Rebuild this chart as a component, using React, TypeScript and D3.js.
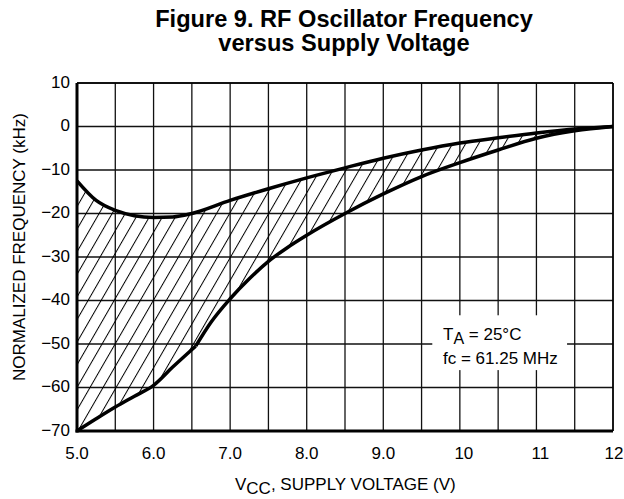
import React from "react";
import * as d3 from "d3";

const xTicks = [5, 6, 7, 8, 9, 10, 11, 12];
const xTickLabels = ["5.0", "6.0", "7.0", "8.0", "9.0", "10", "11", "12"];
const yTicks = [10, 0, -10, -20, -30, -40, -50, -60, -70];
const yTickLabels = ["10", "0", "\u221210", "\u221220", "\u221230", "\u221240", "\u221250", "\u221260", "\u221270"];

const upperV = [5.0, 5.25, 5.5, 5.75, 6.0, 6.25, 6.5, 7.0, 7.5, 8.0, 8.5, 9.0, 9.5, 10, 10.5, 11, 11.5, 12];
const upperF = [-12.5, -17, -19.3, -20.5, -20.9, -20.8, -20, -17, -14.3, -11.8, -9.5, -7.3, -5.4, -3.8, -2.6, -1.5, -0.6, 0];

const lowerV1 = [5.0, 5.25, 5.5, 5.75, 6.0, 6.25, 6.55];
const lowerF1 = [-70, -67.2, -64.5, -62, -59.5, -55.3, -50.5];
const lowerV2 = [6.55, 6.75, 7.0, 7.25, 7.5, 7.75, 8.0, 8.5, 9.0, 9.5, 10, 10.5, 11, 11.5, 12];
const lowerF2 = [-50.5, -45, -39.6, -35, -31, -27.8, -25, -20, -15.5, -11.5, -8.3, -5.4, -2.7, -1, 0];

const W = 624;
const H = 499;
const left = 77;
const right = 613;
const top = 83;
const bottom = 431;

export default function App() {
  const x = d3.scaleLinear().domain([5, 12]).range([left, right]);
  const y = d3.scaleLinear().domain([-70, 10]).range([bottom, top]);

  const line = d3
    .line<[number, number]>()
    .x((d) => x(d[0]))
    .y((d) => y(d[1]))
    .curve(d3.curveMonotoneX);

  const up: [number, number][] = upperV.map((v, i) => [v, upperF[i]]);
  const lo1: [number, number][] = lowerV1.map((v, i) => [v, lowerF1[i]]);
  const lo2: [number, number][] = lowerV2.map((v, i) => [v, lowerF2[i]]);

  const upPath = line(up) || "";
  const lo1Path = line(lo1) || "";
  const lo2Path = line(lo2) || "";
  const lo2Rev = (line([...lo2].reverse()) || "").replace(/^M/, "L");
  const lo1Rev = (line([...lo1].reverse()) || "").replace(/^M/, "L");
  const hatchPath = upPath + lo2Rev + lo1Rev + "Z";

  const vGrid = d3.range(5, 12.01, 0.5);
  const font = "'Liberation Sans', Arial, Helvetica, sans-serif";

  return (
    <svg
      width={W}
      height={H}
      style={{ position: "absolute", left: 0, top: 0, background: "#fff" }}
      fontFamily={font}
    >
      <defs>
        <pattern
          id="hatch"
          patternUnits="userSpaceOnUse"
          width={11.3}
          height={20}
          patternTransform="rotate(30)"
        >
          <line x1={0.5} y1={0} x2={0.5} y2={20} stroke="#000" strokeWidth={1} />
        </pattern>
      </defs>
      <rect x={0} y={0} width={W} height={H} fill="#fff" />

      <text x={344} y={27} textAnchor="middle" fontWeight="bold" fontSize={23.6}>
        Figure 9. RF Oscillator Frequency
      </text>
      <text x={344} y={51} textAnchor="middle" fontWeight="bold" fontSize={23.6}>
        versus Supply Voltage
      </text>

      {/* grid */}
      {vGrid.map((v) => (
        <line key={"v" + v} x1={x(v)} x2={x(v)} y1={top} y2={bottom} stroke="#111" strokeWidth={1.3} />
      ))}
      {yTicks.map((t) => (
        <line key={"h" + t} x1={left} x2={right} y1={y(t)} y2={y(t)} stroke="#111" strokeWidth={1.3} />
      ))}

      {/* hatch */}
      <path d={hatchPath} fill="url(#hatch)" stroke="none" />

      {/* annotation box */}
      <rect x={x(9.64)} y={y(-43.4)} width={x(11.4) - x(9.64)} height={y(-56) - y(-43.4)} fill="#fff" />
      <text x={443} y={340} fontSize={17}>
        T<tspan dy={4} fontSize={16}>A</tspan>
        <tspan dy={-4}> = 25°C</tspan>
      </text>
      <text x={443} y={364} fontSize={17}>
        fc = 61.25 MHz
      </text>

      {/* curves */}
      <path d={upPath} fill="none" stroke="#000" strokeWidth={3.5} />
      <path d={lo1Path} fill="none" stroke="#000" strokeWidth={3.5} />
      <path d={lo2Path} fill="none" stroke="#000" strokeWidth={3.5} />

      {/* frame */}
      <line x1={left} x2={right} y1={top} y2={top} stroke="#000" strokeWidth={1.5} />
      <line x1={right} x2={right} y1={top} y2={bottom} stroke="#000" strokeWidth={1.5} />
      <line x1={left} x2={left} y1={top} y2={bottom + 1.5} stroke="#000" strokeWidth={3} />
      <line x1={left - 1.5} x2={right} y1={bottom} y2={bottom} stroke="#000" strokeWidth={3} />

      {/* y ticks */}
      {yTicks.map((t, i) => (
        <text key={"yl" + t} x={70} y={y(t)} dy={4.8} textAnchor="end" fontSize={17}>
          {yTickLabels[i]}
        </text>
      ))}
      {/* x ticks */}
      {xTicks.map((t, i) => (
        <text key={"xl" + t} x={x(t) + (t >= 12 ? 1 : t >= 10 ? 4 : 0)} y={459} textAnchor="middle" fontSize={17}>
          {xTickLabels[i]}
        </text>
      ))}

      <text x={235} y={490} fontSize={17}>
        V<tspan dy={4} fontSize={17}>CC</tspan>
        <tspan dy={-4}>, SUPPLY VOLTAGE (V)</tspan>
      </text>

      <text transform="translate(25,247) rotate(-90)" textAnchor="middle" fontSize={17}>
        NORMALIZED FREQUENCY (kHz)
      </text>
    </svg>
  );
}
